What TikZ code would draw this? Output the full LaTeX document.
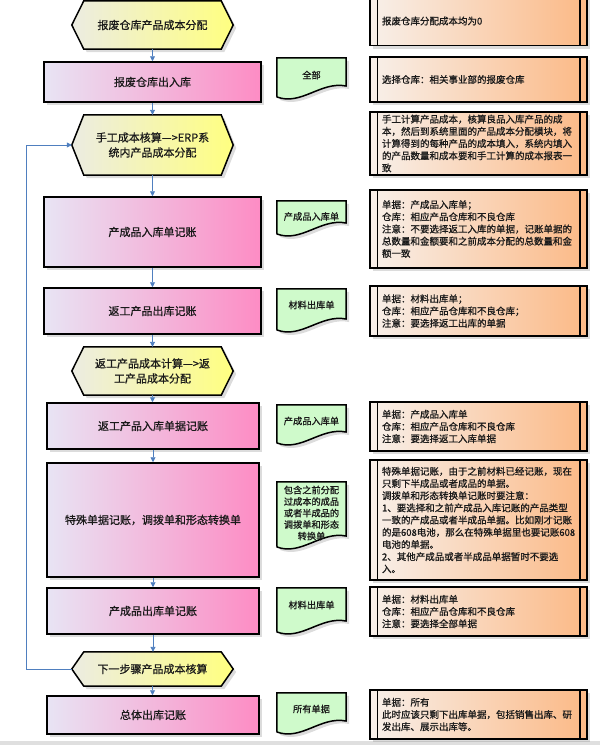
\documentclass[tikz,border=0pt]{standalone}
\usepackage{fontspec}
\setmainfont{Noto Sans CJK SC}[FakeBold=0.9]
\usetikzlibrary{calc,shadows,backgrounds,arrows.meta}
\definecolor{txt}{HTML}{1A1A1A}
\definecolor{pinkL}{HTML}{E8E4F4}
\definecolor{pinkR}{HTML}{FD8CC4}
\definecolor{hexL}{HTML}{ECECE2}
\definecolor{hexR}{HTML}{FFFF80}
\definecolor{orL}{HTML}{F8F0EA}
\definecolor{orR}{HTML}{FBB986}
\definecolor{docG}{HTML}{CFFACB}
\definecolor{arrowblue}{HTML}{4F7FBF}
\begin{document}
\begin{tikzpicture}[x=1pt,y=-1pt,
  every node/.style={text=txt},
  shad/.style={drop shadow={opacity=0.28, shadow xshift=3pt, shadow yshift=-3pt}},
  procbox/.style={rectangle, draw=black, line width=1.5pt, left color=pinkL, right color=pinkR,
    font=\fontsize{11}{14}\selectfont, shad},
  hexin/.style={rectangle, inner sep=0pt, minimum width=137, align=center,
    font=\fontsize{11}{15}\selectfont},
  hexfill/.style={draw=black, line width=1.5pt, left color=hexL, right color=hexR, shad},
  notebox/.style={rectangle, draw=black, line width=1.5pt, left color=orL, right color=orR,
    minimum width=217, inner xsep=12pt, inner ysep=0pt, text width=193pt, align=left,
    font=\fontsize{9.5}{12.2}\selectfont, shad},
  docin/.style={rectangle, inner sep=0pt, minimum width=69, align=center,
    font=\fontsize{9.2}{11.5}\selectfont},
  docfill/.style={draw=black, line width=1.5pt, fill=docG, shad},
  arr/.style={draw=arrowblue, line width=0.9pt, -{Triangle[width=5pt,length=5pt]}},
  loopline/.style={draw=arrowblue, line width=0.8pt, -{Triangle[width=5pt,length=5pt]}}
]
\useasboundingbox (0,0) rectangle (600,745);

% ---- main column ----
\node[hexin, minimum height=48] (h1) at (152.5,25) {报废仓库产品成本分配};
\node[procbox, minimum width=217, minimum height=40] (r1) at (152.5,82) {报废仓库出入库};
\node[hexin, minimum height=60] (h2) at (152.5,145) {手工成本核算—>ERP系\\统内产品成本分配};
\node[procbox, minimum width=217, minimum height=70] (r2) at (152.5,232) {产成品入库单记账};
\node[procbox, minimum width=217, minimum height=46] (r3) at (152.5,311) {返工产品出库记账};
\node[hexin, minimum height=48] (h3) at (152.5,371) {返工产品成本计算—>返\\工产品成本分配};
\node[procbox, minimum width=212, minimum height=46] (r4) at (153,426) {返工产品入库单据记账};
\node[procbox, minimum width=212, minimum height=114] (r5) at (153,520) {特殊单据记账，调拨单和形态转换单};
\node[procbox, minimum width=212, minimum height=46] (r6) at (153,611) {产成品出库单记账};
\node[hexin, minimum height=34] (h4) at (152.5,669) {下一步骤产品成本核算};
\node[procbox, minimum width=212, minimum height=38] (r7) at (153,715) {总体出库记账};

% ---- documents ----
\node[docin, minimum height=34] (d1) at (311.5,75) {全部};
\node[docin, minimum height=31] (d2) at (311.5,216.5) {产成品入库单};
\node[docin, minimum height=32] (d3) at (311.5,305) {材料出库单};
\node[docin, minimum height=32] (d4) at (311.5,421) {产成品入库单};
\node[docin, minimum height=62] (d5) at (311.5,513) {包含之前分配\\过成本的成品\\或者半成品的\\调拨单和形态\\转换单};
\node[docin, minimum height=34] (d6) at (311.5,605) {材料出库单};
\node[docin, minimum height=32] (d7) at (311.5,709) {所有单据};

% ---- notes ----
\node[notebox, minimum height=49] (n1) at (478.5,21) {报废仓库分配成本均为0};
\node[notebox, minimum height=45] (n2) at (478.5,79.5) {选择仓库：相关事业部的报废仓库};
\node[notebox, minimum height=63] (n3) at (478.5,143.5) {手工计算产品成本，核算良品入库产品的成\\本，然后到系统里面的产品成本分配模块，将\\计算得到的每种产品的成本填入，系统内填入\\的产品数量和成本要和手工计算的成本报表一\\致};
\node[notebox, minimum height=78] (n4) at (478.5,229) {单据：产成品入库单；\\仓库：相应产品仓库和不良仓库\\注意：不要选择返工入库的单据，记账单据的\\总数量和金额要和之前成本分配的总数量和金\\额一致};
\node[notebox, minimum height=50] (n5) at (478.5,311) {单据：材料出库单；\\仓库：相应产品仓库和不良仓库；\\注意：要选择返工出库的单据};
\node[notebox, minimum height=49] (n6) at (478.5,426.5) {单据：产成品入库单\\仓库：相应产品仓库和不良仓库\\注意：要选择返工入库单据};
\node[notebox, minimum height=120] (n7) at (478.5,520) {特殊单据记账，由于之前材料已经记账，现在\\只剩下半成品或者成品的单据。\\调拨单和形态转换单记账时要注意：\\1、要选择和之前产成品入库记账的产品类型\\一致的产成品或者半成品单据。比如刚才记账\\的是608电池，那么在特殊单据里也要记账608\\电池的单据。\\2、其他产成品或者半成品单据暂时不要选\\入。};
\node[notebox, minimum height=49] (n8) at (478.5,611.5) {单据：材料出库单\\仓库：相应产品仓库和不良仓库\\注意：要选择全部单据};
\node[notebox, minimum height=49] (n9) at (478.5,714.5) {单据：所有\\此时应该只剩下出库单据，包括销售出库、研\\发出库、展示出库等。};

\foreach \n in {n1,n2,n3,n4,n5,n6,n7,n8,n9}{
  \draw[line width=1.5pt] ($(\n.north west)+(8,0)$) -- ($(\n.south west)+(8,0)$)
                          ($(\n.north east)+(-8,0)$) -- ($(\n.south east)+(-8,0)$);
}

% ---- background shapes ----
\begin{scope}[on background layer]
  \foreach \h in {h1,h2,h3,h4}{
    \path[hexfill] (\h.north west) -- (\h.north east) -- ($(\h.east)+(12,0)$)
      -- (\h.south east) -- (\h.south west) -- ($(\h.west)+(-12,0)$) -- cycle;
  }
  \foreach \dn/\b in {d1/97,d2/234,d3/330,d4/443,d5/547,d6/632,d7/732}{
    \path[docfill] (\dn.north west) -- (\dn.north east) -- (346,\b-11)
      .. controls (321,\b-16) and (301,\b+9) .. (277,\b) -- cycle;
  }
  \fill[gray!25] (0,741) rectangle (600,745);
\end{scope}

% ---- connectors ----
\draw[arr] (h1.south) -- (r1.north);
\draw[arr] (r1.south) -- (h2.north);
\draw[arr] (h2.south) -- (r2.north);
\draw[arr] (r2.south) -- (r3.north);
\draw[arr] (r3.south) -- (h3.north);
\draw[arr] (h3.south) -- (h3.south |- r4.north);
\draw[arr] (r4.south) -- (r5.north);
\draw[arr] (r5.south) -- (r6.north);
\draw[arr] (r6.south) -- (r6.south |- h4.north);
\draw[arr] (h4.south) -- (h4.south |- r7.north);

\coordinate (h4tip) at ($(h4.west)+(-12,0)$);
\coordinate (h2tip) at ($(h2.west)+(-12,0)$);
\draw[loopline] (h4tip) -- ++(-45,0) |- (h2tip);
\end{tikzpicture}
\end{document}
